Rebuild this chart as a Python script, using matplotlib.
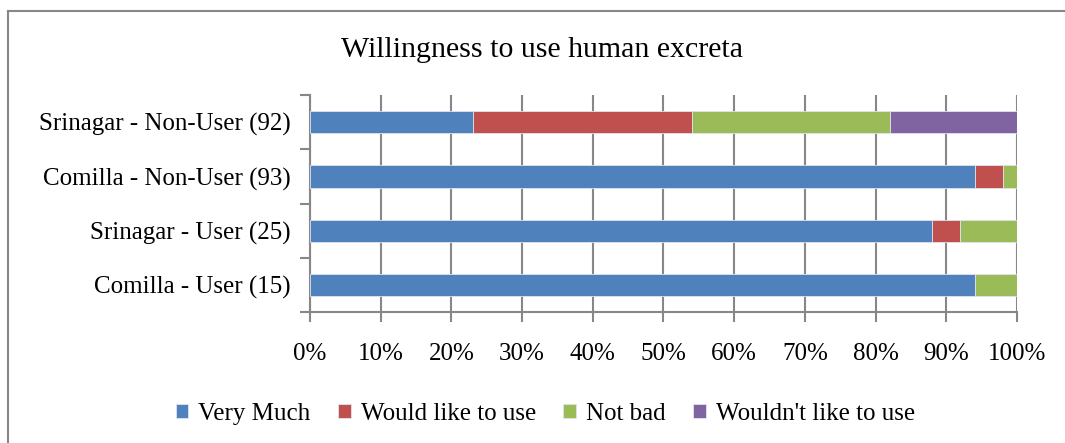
import numpy as np
import matplotlib
matplotlib.use('Agg')
import matplotlib.pyplot as plt
from matplotlib.lines import Line2D
from matplotlib.ticker import FuncFormatter

plt.rcParams['font.family'] = ['Liberation Serif', 'DejaVu Serif']

groups = ['Comilla - User (15)', 'Srinagar - User (25)',
          'Comilla - Non-User (93)', 'Srinagar - Non-User (92)']
answers = ['Very Much', 'Would like to use', 'Not bad', "Wouldn't like to use"]
very_much = [94, 88, 94, 23]
would_like = [0, 4, 4, 31]
not_bad = [6, 8, 2, 28]
wouldnt_like = [0, 0, 0, 18]
colors = ['#4F81BD', '#C0504D', '#9BBB59', '#8064A2']

fig = plt.figure(figsize=(10.65, 4.43), dpi=100)
ax = fig.add_axes([0.2911, 0.2957, 0.6638, 0.4898])

y = np.arange(len(groups))
left = np.zeros(len(groups))
for name, vals, c in zip(answers, [very_much, would_like, not_bad, wouldnt_like], colors):
    vals = np.array(vals, dtype=float)
    ax.barh(y, vals, left=left, height=0.41, color=c, edgecolor='#dde4ee',
            linewidth=0.6, label=name, zorder=3)
    left += vals

ax.set_xlim(0, 100)
ax.set_ylim(-0.5, len(groups) - 0.5)
ax.set_xticks(np.arange(0, 101, 10))
ax.xaxis.set_major_formatter(FuncFormatter(lambda v, p: '%d%%' % v))
ax.set_yticks(y)
ax.set_yticklabels(groups)
ax.set_yticks(np.arange(-0.5, len(groups), 1), minor=True)
ax.tick_params(axis='y', which='major', length=0, pad=14, labelsize=18)
ax.tick_params(axis='y', which='minor', length=7, width=1.5, color='#878787')
ax.tick_params(axis='x', length=7, width=1.5, color='#878787', pad=15, labelsize=18)

ax.grid(axis='x', color='#878787', linewidth=1.5, zorder=0)
for s in ['top', 'right']:
    ax.spines[s].set_visible(False)
for s in ['left', 'bottom']:
    ax.spines[s].set_color('#878787')
    ax.spines[s].set_linewidth(1.5)

fig.text(0.509, 0.887, 'Willingness to use human excreta', ha='center',
         va='center', fontsize=21.5)

fig.legend(loc='center', bbox_to_anchor=(0.512, 0.066), ncol=4, frameon=False,
           fontsize=18, handlelength=0.5, handleheight=0.5, handletextpad=0.4,
           columnspacing=1.1)

# outer frame: only the left and top edges show
fig.add_artist(Line2D([0.0075, 0.0075], [0, 0.975], color='#878787', lw=1.5))
fig.add_artist(Line2D([0.0075, 1.0], [0.975, 0.975], color='#878787', lw=1.5))

fig.savefig('out.png', dpi=100)
